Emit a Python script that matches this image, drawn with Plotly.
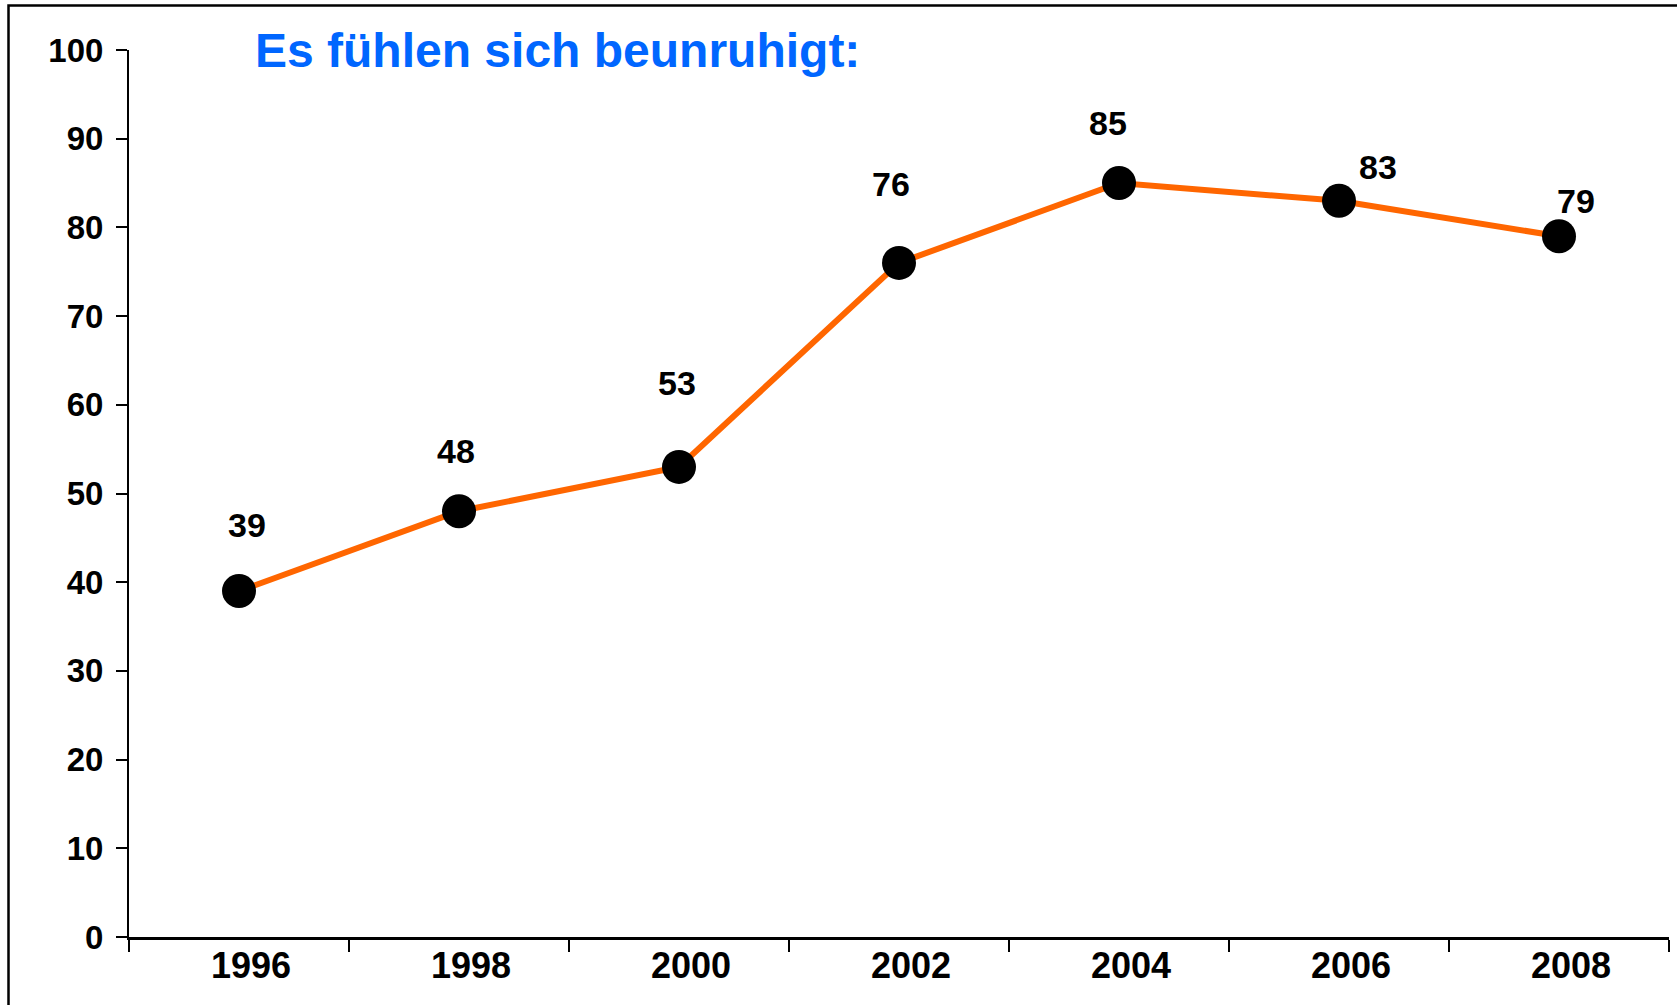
import plotly.graph_objects as go

# ---- data ----
years = ["1996", "1998", "2000", "2002", "2004", "2006", "2008"]
values = [39, 48, 53, 76, 85, 83, 79]
y_ticks = [0, 10, 20, 30, 40, 50, 60, 70, 80, 90, 100]
title_text = "Es fühlen sich beunruhigt:"

# ---- label offsets (style, pixels relative to each point) ----
label_dx = [8, -3, -2, -8, -11, 39, 17]
label_dy = [66, 60, 84, 79, 60, 34, 35]

W, H = 1677, 1005
ML, MR, MT, MB = 129, 8, 50, 68

font_main = "Liberation Sans, Arial, sans-serif"

fig = go.Figure()
fig.add_trace(go.Scatter(
    x=years, y=values, mode="lines+markers",
    line=dict(color="#FF6600", width=6),
    marker=dict(color="black", size=34, line=dict(width=0)),
    hoverinfo="x+y", showlegend=False,
))

for i, (v, dx, dy) in enumerate(zip(values, label_dx, label_dy)):
    fig.add_annotation(
        x=i, y=v, xref="x", yref="y", text=f"<b>{v}</b>", showarrow=False,
        xshift=dx, yshift=dy, xanchor="center", yanchor="middle",
        font=dict(family=font_main, size=34, color="black"),
    )

# title
fig.add_annotation(
    x=(253 - ML) / (W - ML - MR), y=1.0, xref="paper", yref="paper",
    text=f"<b>{title_text}</b>", showarrow=False, xanchor="left", yanchor="middle",
    font=dict(family=font_main, size=48, color="#0066FF"),
)

# outer frame (left and top edges visible)
pw = W - ML - MR
ph = H - MT - MB
fig.add_shape(type="rect", xref="paper", yref="paper",
              x0=(8.5 - ML) / pw, x1=(W + 20 - ML) / pw,
              y0=-(H + 20 - (H - MB)) / ph, y1=1 + (MT - 5.5) / ph,
              line=dict(color="black", width=2.5), fillcolor="rgba(0,0,0,0)", layer="below")

fig.update_xaxes(
    type="category", range=[-0.5, len(years) - 0.5],
    showline=True, linecolor="black", linewidth=3,
    ticks="outside", tickson="boundaries", ticklen=12, tickwidth=2, tickcolor="black",
    showgrid=False, zeroline=False,
    tickfont=dict(family=font_main, size=36, color="black"),
    tickprefix="<b>", ticksuffix="</b>",
    ticklabelshift=12, ticklabelstandoff=-5,
)
fig.update_yaxes(
    range=[0, 100], tickvals=y_ticks, ticktext=[f"<b>{t}</b>" for t in y_ticks],
    showline=True, linecolor="black", linewidth=2,
    ticks="outside", ticklen=11, tickwidth=2, tickcolor="black",
    showgrid=False, zeroline=False,
    tickfont=dict(family=font_main, size=33, color="black"),
    ticklabelstandoff=6,
)

fig.update_layout(
    width=W, height=H,
    margin=dict(l=ML, r=MR, t=MT, b=MB, pad=0),
    paper_bgcolor="white", plot_bgcolor="white",
)

fig.write_html("out.html", config={"displayModeBar": False},
               post_script="document.body.style.margin='0';")
